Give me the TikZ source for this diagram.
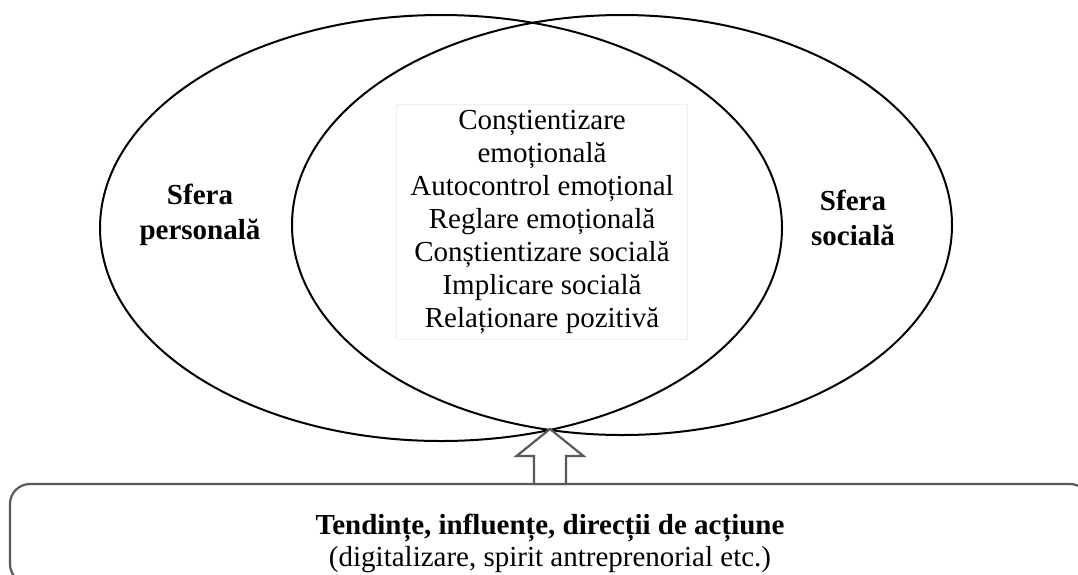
\documentclass[tikz,border=0pt]{standalone}
\usepackage{fontspec}
\setmainfont{Liberation Serif}
\begin{document}
\begin{tikzpicture}[x=1pt, y=-1pt,
  sfera/.style={line width=2pt},
  bigtext/.style={font=\fontsize{29}{33}\selectfont},
  tag/.style={align=center, font=\fontsize{29}{35}\selectfont\bfseries},
  listbox/.style={bigtext, align=center, fill=white, draw=black!6, minimum width=291pt, minimum height=235pt, inner sep=0pt},
  trendbox/.style={draw=black!65, line width=2.2pt, rounded corners=20pt, minimum width=1080pt, minimum height=100pt},
  arrowline/.style={draw=black!65, line width=2.2pt, fill=white, line join=miter}]

\useasboundingbox (0,0) rectangle (1078,574);
\clip (0,0) rectangle (1078,574);

%%%%%%%%%%%% Spheres
  \draw[sfera] (441,228) ellipse [x radius=341pt, y radius=213pt];
  \draw[sfera] (622,225) ellipse [x radius=330pt, y radius=210pt];

  \node[tag] (personal) at (200,215) {Sfera\\personală};
  \node[tag] (social) at (853,218) {Sfera\\socială};

  \node[listbox] (skills) at (542,222) {Conștientizare\\emoțională\\Autocontrol emoțional\\Reglare emoțională\\Conștientizare socială\\Implicare socială\\Relaționare pozitivă};

%%%%%%%%%%%% Trends
  \node[trendbox] (trend) at (550,534) {};
  \node[tag, anchor=base] (trendtitle) at (550,534) {Tendințe, influențe, direcții de acțiune};
  \node[bigtext, anchor=base] (trendnote) at (550,566) {(digitalizare, spirit antreprenorial etc.)};

  \coordinate (tip) at (550,429);
  \draw[arrowline] (tip) -- +(33.5,27) -- +(16,27) -- +(16,55) -- +(-16,55) -- +(-16,27) -- +(-33.5,27) -- cycle;
\end{tikzpicture}
\end{document}
